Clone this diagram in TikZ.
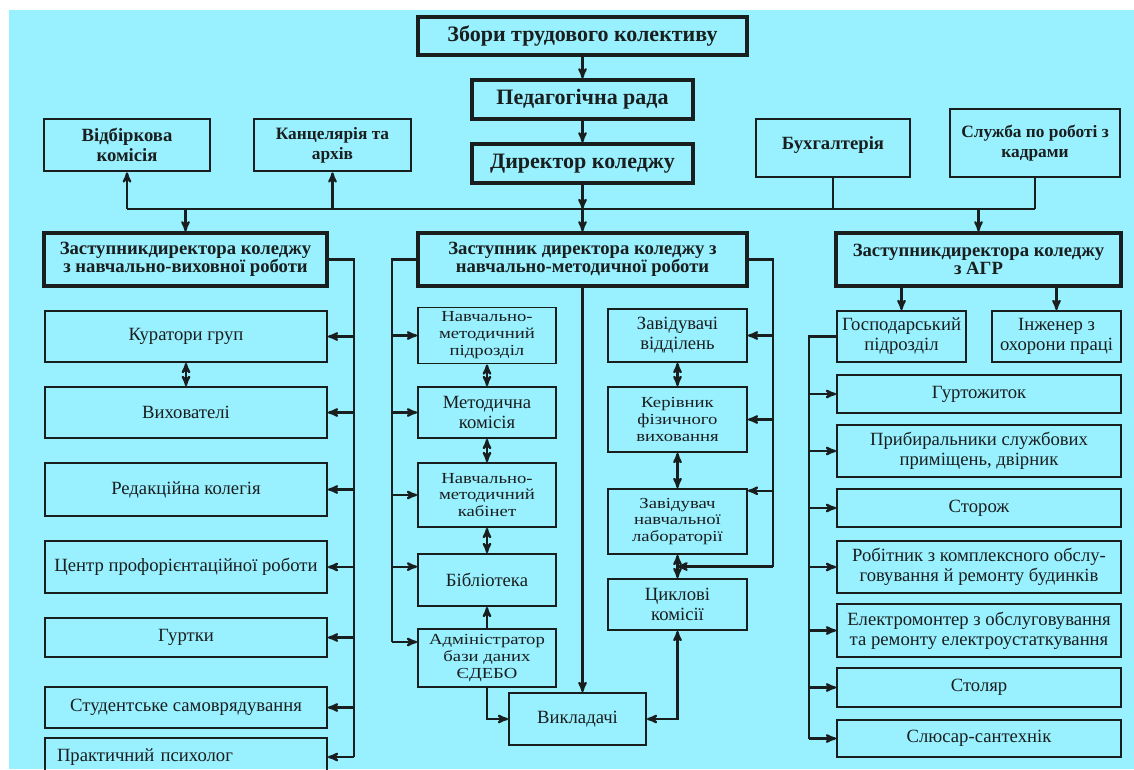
\documentclass[tikz,border=0pt]{standalone}
\usepackage{fontspec}
\setmainfont{Liberation Serif}
\newfontfamily\shyrokyj[FakeStretch=1.22]{Liberation Serif}
\usetikzlibrary{arrows, calc}
\definecolor{fonkol}{RGB}{153,240,254}
\definecolor{ink}{RGB}{25,30,30}

\begin{document}
\begin{tikzpicture}[x=0.75pt, y=-0.75pt, >=stealth',
        golovn/.style={rectangle, draw=ink, text=ink, line width=2.4pt, align=center, font=\fontsize{16.5}{18}\selectfont\bfseries},
        zast/.style={rectangle, draw=ink, text=ink, line width=2.4pt, align=center, font=\fontsize{14}{13.5}\selectfont\bfseries},
        sluzh/.style={rectangle, draw=ink, text=ink, line width=2pt, align=center, font=\fontsize{13}{15}\selectfont\bfseries},
        pidr/.style={rectangle, draw=ink, text=ink, line width=1.4pt, align=center, font=\fontsize{14}{15}\selectfont},
        pidr_tisn/.style={pidr, font=\shyrokyj\fontsize{11.5}{12.7}\selectfont},
        zvjazok/.style={draw=ink, line width=1.6pt}]

        \useasboundingbox (0,0) rectangle (1134,769);
        \fill[white] (0,0) rectangle (1134,769);
        \fill[fonkol] (9,10) rectangle (1134,769);
        \clip (0,0) rectangle (1134,769);

        % kerivnytstvo
        \node at (582.5, 36) [golovn, minimum width=246.75pt, minimum height=28.5pt] (zbory) {Збори трудового колективу};
        \node at (582.5, 99.5) [golovn, minimum width=165.75pt, minimum height=29.25pt] (ped_rada) {Педагогічна рада};
        \node at (582.5, 163.5) [golovn, minimum width=165.75pt, minimum height=29.25pt] (dyrektor) {Директор коледжу};

        \node at (127, 145) [sluzh, font=\fontsize{14}{15}\selectfont\bfseries, minimum width=124.5pt, minimum height=39pt] (vidbir_kom) {Відбіркова\\комісія};
        \node at (332.5, 145) [sluzh, minimum width=117.75pt, minimum height=39pt] (kanc) {Канцелярія та\\архів};
        \node at (833, 148) [sluzh, font=\fontsize{14}{15}\selectfont\bfseries, minimum width=115.5pt, minimum height=43.5pt, text depth=8pt] (buh) {Бухгалтерія};
        \node at (1035, 143) [sluzh, minimum width=127.5pt, minimum height=51pt] (kadry) {Служба по роботі з\\кадрами};

        \node at (185.5, 259.5) [zast, minimum width=212.25pt, minimum height=39.75pt] (zast_nvr) {Заступникдиректора коледжу\\з навчально-виховної роботи};
        \node at (582.5, 259.5) [zast, minimum width=246.75pt, minimum height=39.75pt] (zast_nmr) {Заступник директора коледжу з\\навчально-методичної роботи};
        \node at (978.5, 259.5) [zast, minimum width=213.75pt, minimum height=39.75pt] (zast_agr) {Заступникдиректора коледжу\\з АГР};

        % vyhovna robota
        \node at (186, 336.5) [pidr, minimum width=211.5pt, minimum height=38.25pt] (kurator) {Куратори груп};
        \node at (186, 412.5) [pidr, minimum width=211.5pt, minimum height=38.25pt] (vyhov) {Вихователі};
        \node at (186, 489.5) [pidr, minimum width=211.5pt, minimum height=39.75pt] (redkol) {Редакційна колегія};
        \node at (186, 567) [pidr, minimum width=211.5pt, minimum height=39pt] (centr_pr) {Центр профорієнтаційної роботи};
        \node at (186, 637.5) [pidr, minimum width=211.5pt, minimum height=29.25pt] (gurtky) {Гуртки};
        \node at (186, 707.5) [pidr, minimum width=211.5pt, minimum height=30.75pt] (stud_sam) {Студентське самоврядування};
        \node at (186, 757) [pidr, align=left, text width=193.5pt, inner xsep=9pt, minimum height=28.5pt] (psyholog) {Практичний психолог};

        % metodychna robota
        \node at (487, 335.5) [pidr_tisn, minimum width=103.5pt, minimum height=39.75pt] (nm_pidr) {Навчально-\\методичний\\підрозділ};
        \node at (487, 412.5) [pidr, minimum width=103.5pt, minimum height=38.25pt] (met_kom) {Методична\\комісія};
        \node at (487, 495) [pidr_tisn, minimum width=103.5pt, minimum height=48pt] (nm_kab) {Навчально-\\методичний\\кабінет};
        \node at (487, 580) [pidr, minimum width=103.5pt, minimum height=39pt] (biblio) {Бібліотека};
        \node at (487, 658) [pidr_tisn, minimum width=103.5pt, minimum height=43.5pt] (admin) {Адміністратор\\бази даних\\ЄДЕБО};

        \node at (677.5, 335.5) [pidr, minimum width=104.25pt, minimum height=39.75pt] (zav_vid) {Завідувачі\\відділень};
        \node at (677.5, 419.5) [pidr_tisn, minimum width=104.25pt, minimum height=48.75pt] (kerivnyk) {Керівник\\фізичного\\виховання};
        \node at (677.5, 521.5) [pidr_tisn, minimum width=104.25pt, minimum height=48.75pt] (zav_lab) {Завідувач\\навчальної\\лабораторії};
        \node at (677.5, 604.5) [pidr, minimum width=104.25pt, minimum height=38.25pt] (cykl_kom) {Циклові\\комісії};

        \node at (577.5, 719) [pidr, minimum width=102.75pt, minimum height=39pt] (vykl) {Викладачі};

        % gospodarska robota
        \node at (901.5, 336.5) [pidr, minimum width=96.75pt, minimum height=38.25pt] (gosp) {Господарський\\підрозділ};
        \node at (1056.5, 336.5) [pidr, minimum width=96.75pt, minimum height=38.25pt] (inzh) {Інженер з\\охорони праці};

        \node at (979, 394) [pidr, minimum width=213pt, minimum height=28.5pt] (gurtoz) {Гуртожиток};
        \node at (979, 451) [pidr, minimum width=213pt, minimum height=39pt] (prybyr) {Прибиральники службових\\приміщень, двірник};
        \node at (979, 508) [pidr, minimum width=213pt, minimum height=28.5pt] (storoz) {Сторож};
        \node at (979, 567) [pidr, minimum width=213pt, minimum height=39pt] (robitn) {Робітник з комплексного обслу-\\говування й ремонту будинків};
        \node at (979, 630.5) [pidr, minimum width=213pt, minimum height=39.75pt] (elektro) {Електромонтер з обслуговування\\та ремонту електроустаткування};
        \node at (979, 687.5) [pidr, minimum width=213pt, minimum height=29.25pt] (stolyar) {Столяр};
        \node at (979, 738.5) [pidr, minimum width=213pt, minimum height=27.75pt] (slyusar) {Слюсар-сантехнік};

        % shyna pid dyrektorom
        \coordinate (bus_w) at (127, 209);
        \coordinate (bus_e) at (1035, 209);
        \draw[zvjazok] (bus_w) -- (bus_e);
        \draw[zvjazok]  (zbory)               edge[->]    (ped_rada)
                        (ped_rada)            edge[->]    (dyrektor)
                        (dyrektor)            edge[->]    (dyrektor |- bus_w)
                        (dyrektor |- bus_w)   edge[->]    (zast_nmr)
                        (vidbir_kom |- bus_w) edge[->]    (vidbir_kom)
                        (kanc |- bus_w)       edge[->]    (kanc)
                        (buh)                 edge        (buh |- bus_w)
                        (kadry)               edge        (kadry |- bus_w)
                        (zast_nvr |- bus_w)   edge[->]    (zast_nvr)
                        (zast_agr |- bus_w)   edge[->]    (zast_agr)
            ;

        % navchalno-vyhovna
        \coordinate (trunk_nvr) at (354, 259.5);
        \coordinate (trunk_nvr_end) at (354, 757);
        \draw[zvjazok] (zast_nvr.east) -- (trunk_nvr) -- (trunk_nvr_end);
        \draw[zvjazok]  (trunk_nvr |- kurator)   edge[->]   (kurator)
                        (trunk_nvr |- vyhov)     edge[->]   (vyhov)
                        (trunk_nvr |- redkol)    edge[->]   (redkol)
                        (trunk_nvr |- centr_pr)  edge[->]   (centr_pr)
                        (trunk_nvr |- gurtky)    edge[->]   (gurtky)
                        (trunk_nvr |- stud_sam)  edge[->]   (stud_sam)
                        (trunk_nvr_end)          edge[->]   (psyholog)
                        (kurator)                edge[<->]  (vyhov)
            ;

        % navchalno-metodychna
        \coordinate (biblio_in) at ([yshift=10pt]biblio.west);
        \coordinate (admin_in) at ([yshift=12pt]admin.west);
        \coordinate (trunk_nmr_l) at (392, 259.5);
        \draw[zvjazok] (zast_nmr.west) -- (trunk_nmr_l) -- (trunk_nmr_l |- admin_in);
        \draw[zvjazok]  (trunk_nmr_l |- nm_pidr)    edge[->]   (nm_pidr)
                        (trunk_nmr_l |- met_kom)    edge[->]   (met_kom)
                        (trunk_nmr_l |- nm_kab)     edge[->]   (nm_kab)
                        (trunk_nmr_l |- biblio_in)  edge[->]   (biblio_in)
                        (trunk_nmr_l |- admin_in)   edge[->]   (admin_in)
                        (nm_pidr)                   edge[<->]  (met_kom)
                        (met_kom)                   edge[<->]  (nm_kab)
                        (nm_kab)                    edge[<->]  (biblio)
                        (admin)                     edge[->]   (biblio)
                        (zast_nmr.south)            edge[->]   (zast_nmr.south |- vykl.north)
            ;
        \draw[zvjazok, ->] (admin.south) |- (vykl.west);

        \coordinate (zav_lab_in) at ([yshift=-2pt]zav_lab.north east);
        \coordinate (lab_cykl) at ($(zav_lab.south)!0.5!(cykl_kom.north)$);
        \coordinate (trunk_nmr_r) at (773, 259.5);
        \draw[zvjazok] (zast_nmr.east) -- (trunk_nmr_r) -- (trunk_nmr_r |- lab_cykl);
        \draw[zvjazok]  (trunk_nmr_r |- zav_vid)     edge[->]   (zav_vid)
                        (trunk_nmr_r |- kerivnyk)    edge[->]   (kerivnyk)
                        (trunk_nmr_r |- zav_lab_in)  edge[->]   (zav_lab_in)
                        (trunk_nmr_r |- lab_cykl)    edge[->]   (lab_cykl)
                        (zav_vid)                    edge[<->]  (kerivnyk)
                        (kerivnyk)                   edge[<->]  (zav_lab)
                        (zav_lab)                    edge[<->]  (cykl_kom)
            ;
        \draw[zvjazok, <->] (vykl.east) -| (cykl_kom.south);

        % administratyvno-gospodarska
        \coordinate (trunk_agr) at (809, 336.5);
        \draw[zvjazok] (gosp.west) -- (trunk_agr) -- (trunk_agr |- slyusar);
        \draw[zvjazok]  (gosp |- zast_agr.south)  edge[->]  (gosp)
                        (inzh |- zast_agr.south)  edge[->]  (inzh)
                        (trunk_agr |- gurtoz)     edge[->]  (gurtoz)
                        (trunk_agr |- prybyr)     edge[->]  (prybyr)
                        (trunk_agr |- storoz)     edge[->]  (storoz)
                        (trunk_agr |- robitn)     edge[->]  (robitn)
                        (trunk_agr |- elektro)    edge[->]  (elektro)
                        (trunk_agr |- stolyar)    edge[->]  (stolyar)
                        (trunk_agr |- slyusar)    edge[->]  (slyusar)
            ;
    \end{tikzpicture}
\end{document}
